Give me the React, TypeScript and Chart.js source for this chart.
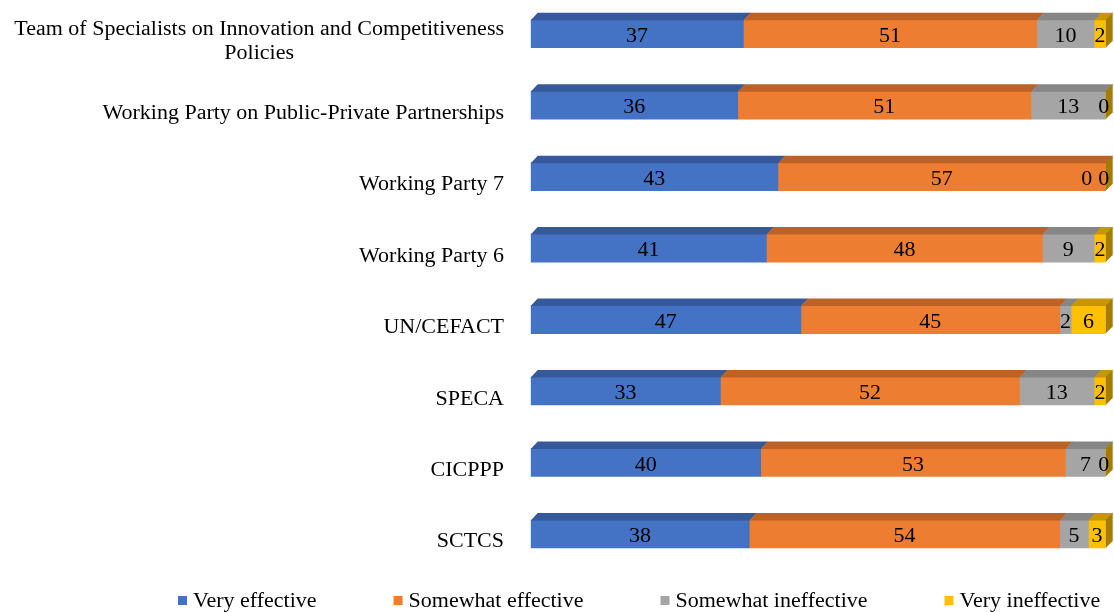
import React, { useEffect, useRef } from "react";
import { Chart, registerables } from "chart.js";

Chart.register(...registerables);

const categories: string[][] = [
  ["Team of Specialists on Innovation and Competitiveness", "Policies"],
  ["Working Party on Public-Private Partnerships"],
  ["Working Party 7"],
  ["Working Party 6"],
  ["UN/CEFACT"],
  ["SPECA"],
  ["CICPPP"],
  ["SCTCS"],
];

const seriesNames = [
  "Very effective",
  "Somewhat effective",
  "Somewhat ineffective",
  "Very ineffective",
];

const veryEffective = [37, 36, 43, 41, 47, 33, 40, 38];
const somewhatEffective = [51, 51, 57, 48, 45, 52, 53, 54];
const somewhatIneffective = [10, 13, 0, 9, 2, 13, 7, 5];
const veryIneffective = [2, 0, 0, 2, 6, 2, 0, 3];

const frontColors = ["#4472C4", "#ED7D31", "#A5A5A5", "#FFC000"];
const topColors = ["#36599B", "#BC6227", "#868686", "#C89600"];
const sideColors = ["#2C4A80", "#9C5120", "#6E6E6E", "#A67C00"];

const FONT_FAMILY = '"Liberation Serif", "Times New Roman", serif';
const FONT_SIZE = 20;
const SX = 1.1;
const DEPTH = 7;
const OFFSET_TOP = 2;

function drawScaledText(
  ctx: CanvasRenderingContext2D,
  text: string,
  x: number,
  y: number,
  align: CanvasTextAlign
) {
  ctx.save();
  ctx.translate(x, y);
  ctx.scale(SX, 1);
  ctx.textAlign = align;
  ctx.textBaseline = "alphabetic";
  ctx.fillText(text, 0, 0);
  ctx.restore();
}

const threeDPlugin = {
  id: "threeD",
  afterDatasetsDraw(chart: any) {
    const ctx: CanvasRenderingContext2D = chart.ctx;
    const n = chart.data.labels.length;
    const metas = chart.data.datasets.map((_: any, i: number) =>
      chart.getDatasetMeta(i)
    );
    ctx.save();
    for (let r = 0; r < n; r++) {
      let lastRight = 0;
      let top = 0;
      let bottom = 0;
      metas.forEach((meta: any, d: number) => {
        const el = meta.data[r];
        const p = el.getProps(["x", "y", "base", "height"], true);
        top = p.y - p.height / 2;
        bottom = p.y + p.height / 2;
        const x0 = Math.min(p.base, p.x);
        const x1 = Math.max(p.base, p.x);
        lastRight = x1;
        if (x1 - x0 > 0.01) {
          ctx.fillStyle = topColors[d];
          ctx.beginPath();
          ctx.moveTo(x0, top + 0.5);
          ctx.lineTo(x0 + DEPTH, top - DEPTH);
          ctx.lineTo(x1 + DEPTH + 0.5, top - DEPTH);
          ctx.lineTo(x1 + 0.5, top + 0.5);
          ctx.closePath();
          ctx.fill();
        }
      });
      ctx.fillStyle = sideColors[3];
      ctx.beginPath();
      ctx.moveTo(lastRight, top);
      ctx.lineTo(lastRight + DEPTH, top - DEPTH);
      ctx.lineTo(lastRight + DEPTH, bottom - DEPTH);
      ctx.lineTo(lastRight, bottom);
      ctx.closePath();
      ctx.fill();

      // data labels
      ctx.font = `${FONT_SIZE}px ${FONT_FAMILY}`;
      ctx.fillStyle = "#000000";
      const items = metas.map((meta: any, d: number) => {
        const el = meta.data[r];
        const p = el.getProps(["x", "y", "base"], true);
        const text = String(chart.data.datasets[d].data[r]);
        const w = ctx.measureText(text).width * SX;
        let cx = (p.x + p.base) / 2;
        if (Math.abs(p.x - p.base) < 0.01) cx -= 2;
        return { text, w, cx, y: p.y };
      });
      for (let d = items.length - 2; d >= 0; d--) {
        const next = items[d + 1];
        const cur = items[d];
        const limit = next.cx - next.w / 2 - 6;
        if (cur.cx + cur.w / 2 > limit) cur.cx = limit - cur.w / 2;
      }
      items.forEach((it: any) => {
        drawScaledText(ctx, it.text, it.cx, it.y + 8, "center");
      });
    }
    ctx.restore();
  },
  afterDraw(chart: any) {
    const ctx: CanvasRenderingContext2D = chart.ctx;
    const yScale = chart.scales.y;
    ctx.save();
    ctx.font = `${FONT_SIZE}px ${FONT_FAMILY}`;
    ctx.fillStyle = "#000000";
    const rightEdge = 504;
    const lineH = 24;
    categories.forEach((lines, i) => {
      const base = yScale.getPixelForValue(i) + 13.5;
      if (lines.length === 1) {
        drawScaledText(ctx, lines[0], rightEdge, base, "right");
      } else {
        const maxW =
          Math.max(...lines.map((l) => ctx.measureText(l).width)) * SX;
        const centerX = rightEdge - maxW / 2;
        const startY = base - ((lines.length - 1) * lineH) / 2;
        lines.forEach((l, k) => {
          drawScaledText(ctx, l, centerX, startY + k * lineH, "center");
        });
      }
    });

    // legend
    const legendY = 600 + OFFSET_TOP;
    let x = 178;
    const box = 9;
    const gap = 77;
    chart.data.datasets.forEach((ds: any, d: number) => {
      ctx.fillStyle = frontColors[d];
      ctx.fillRect(x, legendY - 4, box, box);
      ctx.fillStyle = "#000000";
      const tx = x + box + 6;
      drawScaledText(ctx, ds.label, tx, legendY + 7, "left");
      const w = ctx.measureText(ds.label).width * SX;
      x = tx + w + gap;
    });
    ctx.restore();
  },
};

export default function App() {
  const canvasRef = useRef<HTMLCanvasElement | null>(null);

  useEffect(() => {
    document.body.style.margin = "0";
    const canvas = canvasRef.current;
    if (!canvas) return;
    const seriesValues = [
      veryEffective,
      somewhatEffective,
      somewhatIneffective,
      veryIneffective,
    ];
    const chart = new Chart(canvas, {
      type: "bar",
      data: {
        labels: categories.map((c) => c.join(" ")),
        datasets: seriesValues.map((vals, i) => ({
          label: seriesNames[i],
          data: vals,
          backgroundColor: frontColors[i],
          borderWidth: 0,
          barThickness: 28,
        })),
      },
      options: {
        indexAxis: "y",
        responsive: false,
        animation: false,
        devicePixelRatio: 1,
        layout: {
          padding: { left: 530.7, right: 8.3, top: 0, bottom: 42.3 },
        },
        scales: {
          x: {
            display: false,
            stacked: true,
            min: 0,
            max: 100,
          },
          y: {
            display: false,
            stacked: true,
          },
        },
        plugins: {
          legend: { display: false },
          tooltip: { enabled: false },
        },
      },
      plugins: [threeDPlugin],
    } as any);
    return () => chart.destroy();
  }, []);

  return (
    <div
      style={{
        position: "absolute",
        left: 0,
        top: -OFFSET_TOP,
        width: 1114,
        height: 612 + OFFSET_TOP,
      }}
    >
      <canvas ref={canvasRef} width={1114} height={612 + OFFSET_TOP} />
    </div>
  );
}
